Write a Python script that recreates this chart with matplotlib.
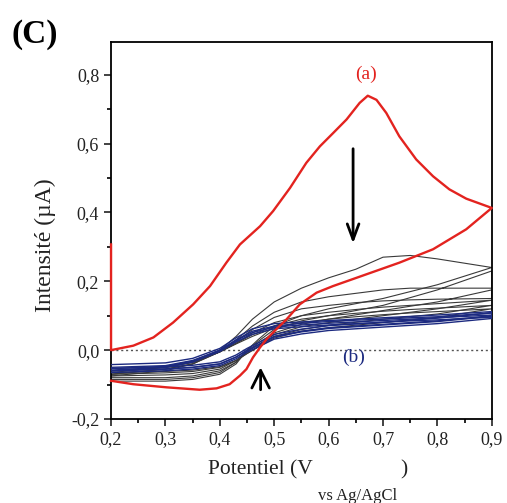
import matplotlib
matplotlib.use('Agg')
import matplotlib.pyplot as plt
import numpy as np
from matplotlib.ticker import MultipleLocator, FuncFormatter

plt.rcParams['font.family'] = ['Liberation Serif', 'DejaVu Serif']

# courbe (a) - premier cycle
xa = [0.2, 0.2, 0.241, 0.278, 0.314, 0.351, 0.382, 0.412, 0.437, 0.474, 0.498, 0.529, 0.559, 0.584,
      0.608, 0.633, 0.657, 0.672, 0.688, 0.706, 0.73, 0.761, 0.792, 0.822, 0.853, 0.9,
      0.853, 0.792, 0.73, 0.669, 0.608, 0.578, 0.547, 0.523, 0.504, 0.486, 0.474, 0.461,
      0.449, 0.437, 0.418, 0.394, 0.363, 0.302, 0.241, 0.2]
ya = [0.307, 0.0, 0.013, 0.037, 0.08, 0.133, 0.186, 0.254, 0.307, 0.36, 0.404, 0.471, 0.544, 0.592,
      0.63, 0.67, 0.718, 0.739, 0.727, 0.689, 0.621, 0.554, 0.505, 0.467, 0.44, 0.413,
      0.351, 0.293, 0.254, 0.22, 0.186, 0.167, 0.133, 0.09, 0.061, 0.032, 0.008, -0.021,
      -0.055, -0.074, -0.099, -0.111, -0.115, -0.108, -0.099, -0.089]

# cycles suivants (noir) : aller puis retour
x_aller = [0.2, 0.3, 0.35, 0.4, 0.43, 0.46, 0.5, 0.55, 0.6, 0.65, 0.7, 0.75, 0.8, 0.9]
x_retour = [0.9, 0.8, 0.7, 0.6, 0.55, 0.5, 0.47, 0.45, 0.43, 0.4, 0.35, 0.3, 0.2]

noir_aller = [
    [-0.075, -0.06, -0.04, 0.0, 0.04, 0.09, 0.14, 0.18, 0.21, 0.235, 0.27, 0.275, 0.265, 0.24],
    [-0.07, -0.055, -0.04, -0.005, 0.03, 0.07, 0.11, 0.14, 0.155, 0.165, 0.175, 0.18, 0.18, 0.18],
    [-0.07, -0.055, -0.04, -0.005, 0.025, 0.06, 0.095, 0.12, 0.13, 0.138, 0.143, 0.146, 0.148, 0.15],
    [-0.065, -0.05, -0.035, -0.005, 0.02, 0.05, 0.08, 0.1, 0.11, 0.118, 0.125, 0.13, 0.135, 0.145],
    [-0.06, -0.05, -0.035, -0.005, 0.02, 0.045, 0.07, 0.09, 0.1, 0.107, 0.113, 0.118, 0.122, 0.13],
    [-0.06, -0.05, -0.035, -0.005, 0.018, 0.04, 0.065, 0.08, 0.09, 0.097, 0.103, 0.108, 0.112, 0.12],
]
noir_retour = [
    [0.24, 0.19, 0.15, 0.12, 0.1, 0.07, 0.03, 0.0, -0.04, -0.07, -0.085, -0.09, -0.09],
    [0.23, 0.175, 0.13, 0.1, 0.085, 0.06, 0.025, 0.0, -0.035, -0.065, -0.08, -0.085, -0.085],
    [0.175, 0.14, 0.115, 0.09, 0.075, 0.05, 0.02, -0.005, -0.035, -0.06, -0.075, -0.08, -0.08],
    [0.145, 0.12, 0.1, 0.08, 0.068, 0.045, 0.015, -0.005, -0.03, -0.055, -0.068, -0.072, -0.075],
    [0.13, 0.105, 0.09, 0.072, 0.06, 0.04, 0.01, -0.01, -0.03, -0.05, -0.062, -0.066, -0.07],
    [0.12, 0.095, 0.08, 0.065, 0.055, 0.035, 0.008, -0.01, -0.03, -0.048, -0.058, -0.062, -0.065],
]

# derniers cycles (b) en bleu
bleu_aller = [
    [-0.05, -0.045, -0.03, 0.0, 0.03, 0.055, 0.07, 0.078, 0.083, 0.087, 0.09, 0.094, 0.097, 0.108],
    [-0.058, -0.05, -0.035, -0.004, 0.024, 0.046, 0.062, 0.068, 0.073, 0.077, 0.081, 0.085, 0.088, 0.096],
    [-0.042, -0.037, -0.024, 0.005, 0.036, 0.062, 0.077, 0.082, 0.086, 0.09, 0.094, 0.098, 0.102, 0.112],
    [-0.054, -0.047, -0.032, 0.0, 0.028, 0.051, 0.067, 0.073, 0.078, 0.082, 0.086, 0.09, 0.094, 0.102],
]
bleu_retour = [
    [0.1, 0.085, 0.075, 0.065, 0.055, 0.04, 0.015, 0.0, -0.02, -0.04, -0.05, -0.055, -0.06],
    [0.092, 0.077, 0.067, 0.057, 0.047, 0.032, 0.009, -0.006, -0.025, -0.045, -0.055, -0.06, -0.065],
    [0.108, 0.093, 0.081, 0.071, 0.061, 0.046, 0.021, 0.005, -0.014, -0.034, -0.044, -0.049, -0.053],
    [0.098, 0.083, 0.073, 0.063, 0.053, 0.038, 0.014, -0.001, -0.02, -0.04, -0.05, -0.055, -0.06],
]

fig = plt.figure(figsize=(5.07, 5.03), dpi=100)
ax = fig.add_axes([0.219, 0.167, 0.751, 0.7495])

ax.axhline(0, color='#555555', lw=1.0, ls=(0, (1.5, 2)), zorder=1)

for ya_, yr_ in zip(noir_aller, noir_retour):
    ax.plot(x_aller + x_retour, ya_ + yr_, color='#3a3a3a', lw=0.8, zorder=2)
for ya_, yr_ in zip(bleu_aller, bleu_retour):
    ax.plot(x_aller + x_retour, ya_ + yr_, color='#1c2a80', lw=1.0, zorder=3)
ax.plot(xa, ya, color='#e3231f', lw=1.7, zorder=4, clip_on=False)

ax.annotate('', xy=(0.645, 0.31), xytext=(0.645, 0.585),
            arrowprops=dict(arrowstyle='->,head_length=0.8,head_width=0.3', lw=2, color='black',
                            shrinkA=0, shrinkB=0, mutation_scale=14))
ax.annotate('', xy=(0.475, -0.05), xytext=(0.475, -0.115),
            arrowprops=dict(arrowstyle='->,head_length=0.7,head_width=0.35', lw=2, color='black',
                            shrinkA=0, shrinkB=0, mutation_scale=18))

ax.text(0.668, 0.80, '(a)', color='#e3231f', fontsize=14, ha='center', va='center')
ax.text(0.645, -0.02, '(b)', color='#1c2a80', fontsize=14, ha='center', va='center')

ax.set_xlim(0.2, 0.9)
ax.set_ylim(-0.2, 0.895)
ax.xaxis.set_major_locator(MultipleLocator(0.1))
ax.xaxis.set_minor_locator(MultipleLocator(0.05))
ax.yaxis.set_major_locator(MultipleLocator(0.2))
ax.yaxis.set_minor_locator(MultipleLocator(0.1))

def fmt(v, pos):
    if abs(v) < 1e-9:
        return '0,0'
    return ('%.1f' % v).replace('.', ',')
ax.xaxis.set_major_formatter(FuncFormatter(fmt))
ax.yaxis.set_major_formatter(FuncFormatter(fmt))
ax.set_yticks([-0.2, 0.0, 0.2, 0.4, 0.6, 0.8])

ax.tick_params(which='major', direction='out', length=5, width=1.2, labelsize=13, colors='#222222')
ax.tick_params(which='minor', direction='out', length=3, width=1.2)
for s in ax.spines.values():
    s.set_linewidth(1.3)

fig.text(0.089, 0.513, 'Intensité (µA)', rotation=90, fontsize=17, ha='center', va='center', color='#222222')
fig.text(0.617, 0.066, 'Potentiel (V', fontsize=15.5, ha='right', va='center', color='#222222')
fig.text(0.705, 0.013, 'vs Ag/AgCl', fontsize=12, ha='center', va='center', color='#222222')
fig.text(0.797, 0.066, ')', fontsize=15.5, ha='center', va='center', color='#222222')
fig.text(0.022, 0.932, '(C)', fontsize=24, fontweight='bold', ha='left', va='center')

fig.savefig('out.png', dpi=100)
